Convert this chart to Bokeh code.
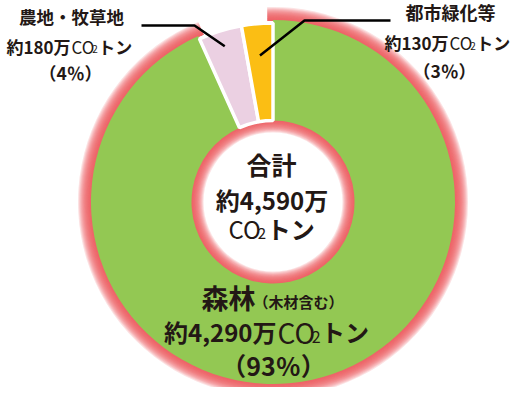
import math
from bokeh.plotting import figure
from bokeh.models import Range1d
from bokeh.core.properties import value
from bokeh.embed import file_html
from bokeh.resources import INLINE

# ---- data (万CO2トン) ----
categories = ["森林", "農地・牧草地", "都市緑化等"]
category_notes = ["（木材含む）", "", ""]
values = [4290, 180, 130]
percents = [93, 4, 3]
total_label = "合計"
total_value = 4590
colors = ["#93c853", "#ebd0e2", "#fbbe14"]
GLOW = "#ee5f66"
INK = "#231815"
JP = "Noto Sans CJK JP"

W, H = 512, 387
p = figure(width=W, height=H, output_backend="svg", toolbar_location=None,
           x_range=Range1d(8, 8 + W), y_range=Range1d(-(8 + H), -8),
           x_axis_type=None, y_axis_type=None, min_border=0)
p.grid.visible = False
p.outline_line_color = None
p.background_fill_color = "white"
p.border_fill_color = "white"

CX, CY = 280.5, -209.5
R_OUT, R_IN = 182.0, 81.5

# angles: orange starts at top, then pink, then green (anticlockwise)
tot = sum(values)
starts, ends = {}, {}
a = math.pi / 2
for i in [2, 1, 0]:
    span = 2 * math.pi * values[i] / tot
    starts[i], ends[i] = a, a + span
    a += span

# outer glow around the green part
N = 16
for k in range(N, 0, -1):
    r = R_OUT + 13.0 * (k / N) ** 1.3
    p.annular_wedge(x=CX, y=CY, inner_radius=R_OUT - 1, outer_radius=r,
                    start_angle=starts[0] - 0.03, end_angle=ends[0] + 0.03,
                    fill_color=GLOW, fill_alpha=0.18, line_color=None)
# inner glow
for k in range(N, 0, -1):
    r = R_IN - 12.0 * (k / N) ** 1.3
    p.annulus(x=CX, y=CY, inner_radius=r, outer_radius=R_IN + 1,
              fill_color=GLOW, fill_alpha=0.18, line_color=None)

# green ring part
p.annular_wedge(x=CX, y=CY, inner_radius=R_IN, outer_radius=R_OUT,
                start_angle=starts[0], end_angle=ends[0],
                fill_color=colors[0], line_color=None)
# small slices with white border
for i in [1, 2]:
    p.annular_wedge(x=CX, y=CY, inner_radius=R_IN, outer_radius=R_OUT - 3,
                    start_angle=starts[i], end_angle=ends[i],
                    fill_color=colors[i], line_color="white", line_width=3.5)

# leader lines
def leader(i, r_end, pts):
    mid = (starts[i] + ends[i]) / 2
    ex = CX + r_end * math.cos(mid)
    ey = CY + r_end * math.sin(mid)
    xs = [q[0] for q in pts] + [ex]
    ys = [-q[1] for q in pts] + [ey]
    p.line(xs, ys, line_color="black", line_width=2.5)

leader(1, 163, [(149, 33), (202, 33)])
leader(2, 147, [(398, 28), (312, 28)])

def txt(x, y, s, size, bold=True, align="left", font=JP, color=INK):
    p.text(x=[x], y=[-y], text=[s], text_font=value(font),
           text_font_size=f"{size}px",
           text_font_style="bold" if bold else "normal",
           text_align=align, text_baseline="middle", text_color=color)

CO_W = 1.22   # approx width of "CO" in em
SUB_W = 0.56  # approx width of "2" in em

def co2_tail(x, y, size, co_size, sub_size):
    # "CO" + subscript "2" + "トン" laid out left to right from x
    txt(x, y, "CO", co_size, bold=False)
    x += CO_W * co_size
    txt(x, y + co_size * 0.2, "2", sub_size, bold=False)
    x += SUB_W * sub_size + 0.5
    txt(x, y, "トン", size)

def amount_line(split_x, y, amount, size, co_size, sub_size):
    txt(split_x, y, f"約{amount:,}万", size, align="right")
    co2_tail(split_x + 1, y, size, co_size, sub_size)

# left label (農地・牧草地)
txt(79, 23.5, categories[1], 17.5, align="center")
amount_line(78, 53.5, values[1], 17, 17, 10)
txt(78, 80, f"（{percents[1]}％）", 17.5, align="center")

# right label (都市緑化等)
txt(458, 19, categories[2], 18, align="center")
amount_line(456, 50, values[2], 17, 17, 10)
txt(452, 78, f"（{percents[2]}％）", 17.5, align="center")

# centre total
txt(279, 171.5, total_label, 25, align="center")
txt(279.5, 206.5, f"約{total_value:,}万", 24, align="center")
co2_tail(236, 236, 24, 24, 15)

# bottom label (森林)
txt(209, 305, categories[0], 27)
txt(261, 309, category_notes[0], 15)
amount_line(284, 339, values[0], 24, 28, 16)
txt(281, 372, f"（{percents[0]}％）", 25, align="center")

open("out.html", "w").write(file_html(p, INLINE))
